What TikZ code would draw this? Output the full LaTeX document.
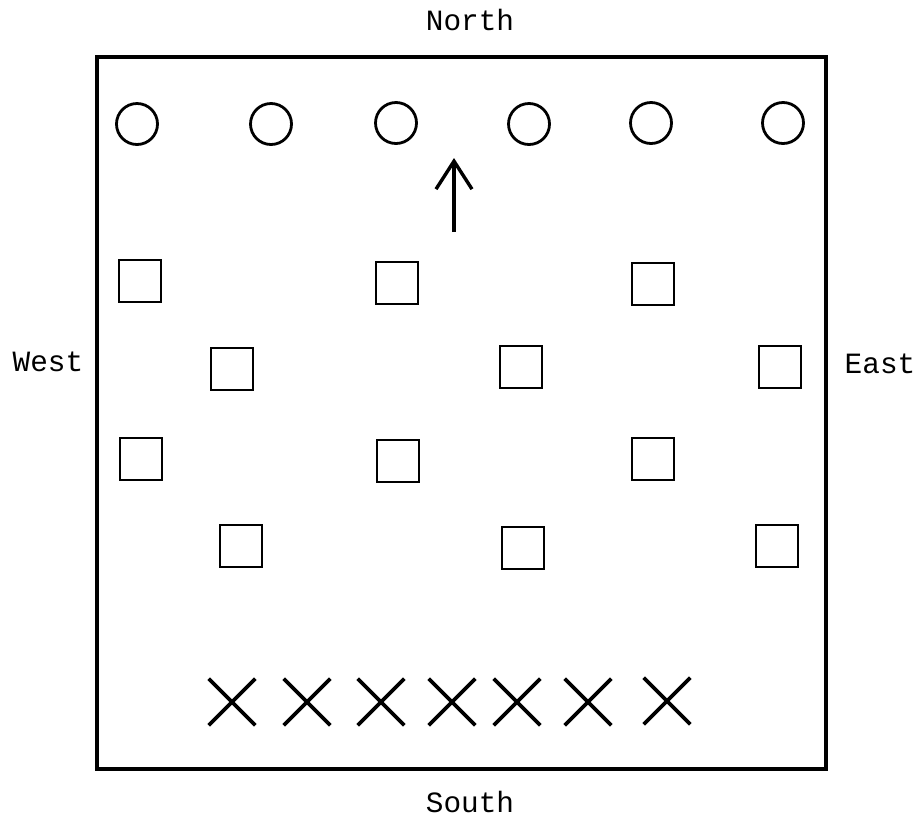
\documentclass[tikz,border=0pt]{standalone}
\usepackage{fontspec}
\setmonofont{Liberation Mono}
\usepackage{tikz}
\usetikzlibrary{arrows.meta,shapes.misc}
\tikzset{
  frame/.style={draw, line width=1.9pt},
  tree/.style={draw, circle, line width=1.4pt, minimum size=20.5pt, inner sep=0pt},
  plot/.style={draw, rectangle, line width=1.3pt, minimum size=21pt, inner sep=0pt},
  mark x/.style={draw, cross out, line width=1.8pt, minimum size=21.5pt, inner sep=0pt},
  compass/.style={font=\ttfamily\fontsize{14.7}{17}\selectfont, inner sep=0pt},
  northarrow/.style={-{Straight Barb[length=14pt, width=18pt, line width=1.7pt]}, line width=1.7pt}
}
\begin{document}
\begin{tikzpicture}[x=0.5pt, y=-0.5pt]
  \useasboundingbox (0,0) rectangle (924,820);
  % field
  \draw[frame] (97,57) rectangle (826,769);
  \node[compass] (north) at (470,20) {North};
  \node[compass] (south) at (470,802) {South};
  \node[compass] (west) at (48,362) {West};
  \node[compass] (east) at (880,364) {East};
  % top row
  \node[tree] (c1) at (137,124) {};
  \node[tree] (c2) at (271,124) {};
  \node[tree] (c3) at (396,123) {};
  \node[tree] (c4) at (529,124) {};
  \node[tree] (c5) at (651,123) {};
  \node[tree] (c6) at (783,123) {};
  \coordinate (tail) at (454,232);
  \coordinate (tip) at (454,158);
  \draw[northarrow] (tail) -- (tip);
  % squares
  \node[plot] (s11) at (140,281) {};
  \node[plot] (s12) at (397,283) {};
  \node[plot] (s13) at (653,284) {};
  \node[plot] (s21) at (232,369) {};
  \node[plot] (s22) at (521,367) {};
  \node[plot] (s23) at (780,367) {};
  \node[plot] (s31) at (141,459) {};
  \node[plot] (s32) at (398,461) {};
  \node[plot] (s33) at (653,459) {};
  \node[plot] (s41) at (241,546) {};
  \node[plot] (s42) at (523,548) {};
  \node[plot] (s43) at (777,546) {};
  % bottom row
  \node[mark x] (x1) at (232,702) {};
  \node[mark x] (x2) at (307,702) {};
  \node[mark x] (x3) at (381,702) {};
  \node[mark x] (x4) at (452,702) {};
  \node[mark x] (x5) at (517,702) {};
  \node[mark x] (x6) at (588,702) {};
  \node[mark x] (x7) at (667,701) {};
\end{tikzpicture}
\end{document}
